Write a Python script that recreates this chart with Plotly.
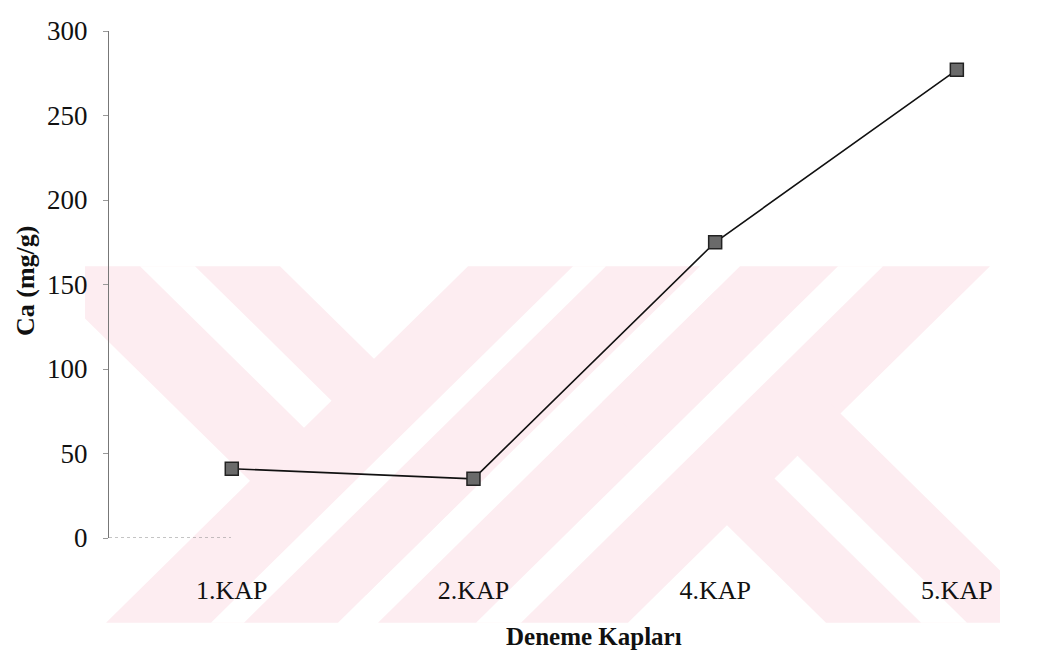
import plotly.graph_objects as go

# ---- data ----
categories = ["1.KAP", "2.KAP", "4.KAP", "5.KAP"]
ca_values = [41, 35, 175, 277]
y_tick_values = [0, 50, 100, 150, 200, 250, 300]
x_title = "Deneme Kapları"
y_title = "Ca (mg/g)"

# ---- figure geometry (screen pixels) ----
FIG_W, FIG_H = 1047, 668
OFF = 8                                # page body margin
PL, PR, PT, PB = 109, 1047, 23, 538    # plot area edges on screen
PW, PH = PR - PL, PB - PT


def px(X):
    return (X - PL) / PW


def py(Y):
    return (PB - Y) / PH


# ---- background watermark (decoration, in screen pixel space) ----
WM_BOX = [(85, 262), (1000, 262), (1000, 624), (85, 624)]
WM_PINK = "rgb(253,237,241)"


def clip(poly, a, b, c):
    """keep part of polygon with a*X + b*Y <= c"""
    out = []
    n = len(poly)
    for i in range(n):
        p, q = poly[i], poly[(i + 1) % n]
        fp = a * p[0] + b * p[1] - c
        fq = a * q[0] + b * q[1] - c
        if fp <= 0:
            out.append(p)
        if (fp < 0 < fq) or (fq < 0 < fp):
            t = fp / (fp - fq)
            out.append((p[0] + t * (q[0] - p[0]), p[1] + t * (q[1] - p[1])))
    return out


def region(dr=None, dl=None):
    """dr: (lo, hi) for X-Y ; dl: (lo, hi) for X+Y"""
    poly = list(WM_BOX)
    if dr is not None:
        lo, hi = dr
        if lo is not None:
            poly = clip(poly, -1, 1, -lo)
        if hi is not None:
            poly = clip(poly, 1, -1, hi)
    if dl is not None:
        lo, hi = dl
        if lo is not None:
            poly = clip(poly, -1, -1, -lo)
        if hi is not None:
            poly = clip(poly, 1, 1, hi)
    return poly


def path_of(poly):
    pts = [f"{px(X):.5f},{py(Y):.5f}" for X, Y in poly]
    return "M " + " L ".join(pts) + " Z"


pink_regions = [
    region(dr=(-230, 18), dl=(None, 962)),
    region(dl=(730, 962)),
    region(dl=(1002, 1252)),
    region(dr=(202, 429), dl=(1002, None)),
]
white_regions = [
    region(dr=(-122, -67), dl=(None, 730)),
    region(dl=(835, 868)),
    region(dl=(1100, 1145)),
    region(dr=(297, 343), dl=(1252, None)),
]

shapes = []
for poly in pink_regions:
    if len(poly) >= 3:
        shapes.append(dict(type="path", path=path_of(poly), xref="paper", yref="paper",
                           fillcolor=WM_PINK, line=dict(width=0), layer="below"))
for poly in white_regions:
    if len(poly) >= 3:
        shapes.append(dict(type="path", path=path_of(poly), xref="paper", yref="paper",
                           fillcolor="white", line=dict(width=0), layer="below"))

# faint dotted baseline fragment
shapes.append(dict(type="line", xref="x domain", yref="y", x0=0, x1=0.13, y0=0, y1=0,
                   line=dict(color="#888", width=1, dash="dot"), layer="below"))

FONT = "Liberation Serif, Times New Roman, serif"

fig = go.Figure()
fig.add_trace(go.Scatter(
    x=categories, y=ca_values, mode="lines+markers",
    line=dict(color="#111", width=1.6),
    marker=dict(symbol="square", size=13, color="#6a6a6a",
                line=dict(color="#222", width=1.5)),
    showlegend=False,
))

fig.update_layout(
    width=FIG_W, height=FIG_H,
    margin=dict(l=PL - OFF, r=FIG_W - (PR - OFF), t=PT - OFF, b=FIG_H - (PB - OFF), pad=0),
    paper_bgcolor="white", plot_bgcolor="rgba(0,0,0,0)",
    font=dict(family=FONT, color="#111", size=27),
    shapes=shapes,
    annotations=[
        dict(text=f"<b>{y_title}</b>", xref="paper", yref="paper",
             x=px(25), y=py(277), xanchor="center", yanchor="middle",
             textangle=-90, showarrow=False, font=dict(size=26, family=FONT, color="#111")),
        dict(text=f"<b>{x_title}</b>", xref="x", yref="paper",
             x=1.5, y=py(638), xanchor="center", yanchor="middle",
             showarrow=False, font=dict(size=25, family=FONT, color="#111")),
    ],
)

fig.update_xaxes(
    type="category", range=[-0.508, 3.373],
    showgrid=False, zeroline=False, showline=False, ticks="",
    tickfont=dict(size=26, family=FONT, color="#111"),
    ticklabelstandoff=34,
)
fig.update_yaxes(
    range=[0, 300], tickvals=y_tick_values,
    showgrid=False, zeroline=False, showline=True, linecolor="#777", linewidth=1,
    ticks="outside", ticklen=5, tickcolor="#999", tickwidth=1,
    tickfont=dict(size=27, family=FONT, color="#111"),
    ticklabelstandoff=10,
)

fig.write_html("out.html")
